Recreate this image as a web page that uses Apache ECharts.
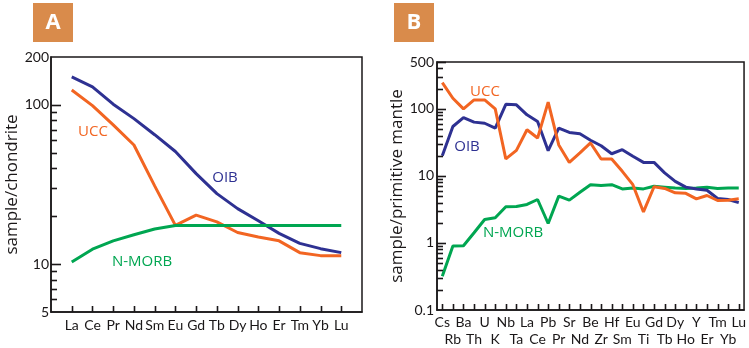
<!DOCTYPE html>
<html>
<head>
<meta charset="utf-8">
<script src="https://cdn.jsdelivr.net/npm/echarts@6/dist/echarts.min.js"></script>
<style>
  html, body { margin: 0; padding: 0; background: #fff; }
  #main { width: 749px; height: 348px; }
</style>
</head>
<body>
<div id="main"></div>
<script>
// 稀土元素 (panel A, chondrite normalised)
var reeA = ['La', 'Ce', 'Pr', 'Nd', 'Sm', 'Eu', 'Gd', 'Tb', 'Dy', 'Ho', 'Er', 'Tm', 'Yb', 'Lu'];
var oibA = [150, 130, 101, 82, 65, 51, 37, 27.7, 22.3, 18.7, 15.6, 13.5, 12.5, 11.8];
var uccA = [124, 99, 75, 56, 31, 17.5, 20.3, 18.4, 15.8, 14.8, 14, 11.8, 11.3, 11.3];
var morbA = [10.3, 12.4, 14, 15.3, 16.6, 17.5, 17.5, 17.5, 17.5, 17.5, 17.5, 17.5, 17.5, 17.5];
var majorA = [10, 100];
var minorA = [6, 7, 8, 9, 20, 30, 40, 50, 60, 70, 80, 90];

// 蛛网图 (panel B, primitive mantle normalised)
var elemB = ['Cs', 'Rb', 'Ba', 'Th', 'U', 'K', 'Nb', 'Ta', 'La', 'Ce', 'Pb', 'Pr', 'Sr', 'Nd', 'Be',
    'Zr', 'Hf', 'Sm', 'Eu', 'Ti', 'Gd', 'Tb', 'Dy', 'Ho', 'Y', 'Er', 'Tm', 'Yb', 'Lu'];
var uccB = [246, 144, 100, 136, 136, 100, 17.9, 24, 48.8, 36.7, 126, 29, 15.9, 22, 31,
    17.9, 17.9, 11.7, 7.4, 2.9, 6.9, 6.5, 5.6, 5.5, 4.55, 5.1, 4.3, 4.35, 4.55];
var oibB = [20, 54.6, 74, 63.4, 61, 51.6, 117, 115, 81.5, 65, 23.8, 51.6, 44.5, 42.5, 34,
    28.2, 21.4, 24.6, 19.6, 15.9, 15.9, 11.1, 8.3, 6.8, 6.4, 6.1, 4.6, 4.45, 4.0];
var morbB = [0.32, 0.9, 0.91, 1.42, 2.24, 2.37, 3.46, 3.5, 3.75, 4.45, 1.95, 5.0, 4.35, 5.7, 7.4,
    7.2, 7.4, 6.4, 6.6, 6.4, 7.0, 6.8, 6.6, 6.5, 6.6, 6.8, 6.5, 6.6, 6.6];
var majorB = [1, 10, 100, 500];
var minorB = [0.2, 0.3, 0.4, 0.5, 0.6, 0.7, 0.8, 0.9, 2, 3, 4, 5, 6, 7, 8, 9,
    20, 30, 40, 50, 60, 70, 80, 90, 200, 300, 400];

var BLUE = '#2e3192', ORANGE = '#f26522', GREEN = '#00a651', INK = '#1a1718';
var FONT = 'Open Sans';
var TICKFONT = 'Lato';

var chart = echarts.init(document.getElementById('main'));

// A 图两端各留一个空位
var catA = [''].concat(reeA, ['']);

function logLabel(v) {
    return String(+(+v).toPrecision(3));
}
function line(name, xi, yi, data, color) {
    return {
        name: name, type: 'line', xAxisIndex: xi, yAxisIndex: yi,
        data: data, symbol: 'none', silent: true,
        lineStyle: { color: color, width: 3 }
    };
}
function badge(x, txt) {
    return {
        type: 'group', left: x, top: 3,
        children: [
            { type: 'rect', shape: { x: 0, y: 0, width: 40, height: 39 }, style: { fill: '#d98b4b' } },
            { type: 'text', x: 20, y: 20, style: { text: txt, fill: '#fff', font: 'bold 22px "' + FONT + '"', textAlign: 'center', textVerticalAlign: 'middle' } }
        ]
    };
}
function note(x, y, txt, color) {
    return {
        type: 'text', x: x, y: y, silent: true,
        style: { text: txt, fill: color, font: '15px "' + FONT + '"', textAlign: 'center', textVerticalAlign: 'middle' }
    };
}

var option = {
    animation: false,
    textStyle: { fontFamily: FONT },
    grid: [
        { left: 51, right: 387, top: 57, bottom: 36, show: true, borderColor: INK, borderWidth: 1.5, backgroundColor: 'transparent' },
        { left: 437, right: 2, top: 62, bottom: 37, show: true, borderColor: INK, borderWidth: 1.5, backgroundColor: 'transparent' }
    ],
    xAxis: [
        {
            gridIndex: 0, type: 'category', data: catA, boundaryGap: false,
            axisLine: { show: true, lineStyle: { color: INK, width: 1.5 } },
            axisTick: { show: false },
            axisLabel: { color: INK, fontSize: 14, fontFamily: TICKFONT, margin: 6, interval: 0 }
        },
        {
            gridIndex: 1, type: 'category', data: elemB, boundaryGap: true,
            axisLine: { show: true, lineStyle: { color: INK, width: 1.5 } },
            axisTick: { show: false },
            axisLabel: {
                color: INK, fontSize: 14, fontFamily: TICKFONT, margin: 4, interval: 0, lineHeight: 17,
                formatter: function (v, i) { return i % 2 ? '\n' + v : v; }
            }
        }
    ],
    yAxis: [
        {
            gridIndex: 0, type: 'log', logBase: 10, min: 5, max: 200,
            name: 'sample/chondrite', nameLocation: 'middle', nameGap: 27, nameRotate: 90,
            nameTextStyle: { color: INK, fontSize: 17 },
            splitLine: { show: false },
            axisLine: { show: true, lineStyle: { color: INK, width: 1.5 } },
            axisTick: { show: false },
            axisLabel: { color: INK, fontSize: 14, fontFamily: TICKFONT, margin: 2, formatter: logLabel }
        },
        {
            gridIndex: 1, type: 'log', logBase: 10, min: 0.1, max: 500,
            name: 'sample/primitive mantle', nameLocation: 'middle', nameGap: 30, nameRotate: 90,
            nameTextStyle: { color: INK, fontSize: 17 },
            splitLine: { show: false },
            axisLine: { show: true, lineStyle: { color: INK, width: 1.5 } },
            axisTick: { show: false },
            axisLabel: { color: INK, fontSize: 14, fontFamily: TICKFONT, margin: 3, formatter: logLabel }
        }
    ],
    series: [
        line('OIB', 0, 0, oibA.map(function (v, i) { return [i + 1, v]; }), BLUE),
        line('UCC', 0, 0, uccA.map(function (v, i) { return [i + 1, v]; }), ORANGE),
        line('N-MORB', 0, 0, morbA.map(function (v, i) { return [i + 1, v]; }), GREEN),
        line('N-MORB', 1, 1, morbB, GREEN),
        line('OIB', 1, 1, oibB, BLUE),
        line('UCC', 1, 1, uccB, ORANGE)
    ],
    graphic: [
        badge(33, 'A'),
        badge(394, 'B'),
        note(93, 132, 'UCC', ORANGE),
        note(225, 178, 'OIB', BLUE),
        note(142, 262, 'N-MORB', GREEN),
        note(485, 92, 'UCC', ORANGE),
        note(467, 147, 'OIB', BLUE),
        note(513, 233, 'N-MORB', GREEN)
    ]
};

chart.setOption(option);

// 刻度线：用坐标轴换算位置后画在 graphic 里
function tick(x1, y1, x2, y2) {
    return { type: 'line', silent: true, z: 10,
        shape: { x1: x1, y1: y1, x2: x2, y2: y2 },
        style: { stroke: INK, lineWidth: 1.6 } };
}
function yTicks(yi, x0, vals, len) {
    return vals.map(function (v) {
        var y = Math.round(chart.convertToPixel({ yAxisIndex: yi }, v)) + 0.5;
        return tick(x0, y, x0 + len, y);
    });
}
function xTicks(xi, y0, idx, len) {
    return idx.map(function (i) {
        var x = Math.round(chart.convertToPixel({ xAxisIndex: xi }, i)) + 0.5;
        return tick(x, y0, x, y0 - len);
    });
}
var leftA = chart.convertToPixel({ xAxisIndex: 0 }, 0);
var bottomA = chart.convertToPixel({ yAxisIndex: 0 }, 5);
var bandB = chart.convertToPixel({ xAxisIndex: 1 }, 1) - chart.convertToPixel({ xAxisIndex: 1 }, 0);
var leftB = chart.convertToPixel({ xAxisIndex: 1 }, 0) - bandB / 2;
var bottomB = chart.convertToPixel({ yAxisIndex: 1 }, 0.1);

option.graphic = option.graphic
    .concat(yTicks(0, leftA, majorA, 10))
    .concat(yTicks(0, leftA, minorA, 6))
    .concat(xTicks(0, bottomA, reeA.map(function (n, i) { return i + 1; }), 6))
    .concat(yTicks(1, leftB, majorB, 9))
    .concat(yTicks(1, leftB, minorB, 6))
    .concat(xTicks(1, bottomB, elemB.map(function (n, i) { return i; }), 6));

chart.setOption(option, true);
</script>
</body>
</html>
